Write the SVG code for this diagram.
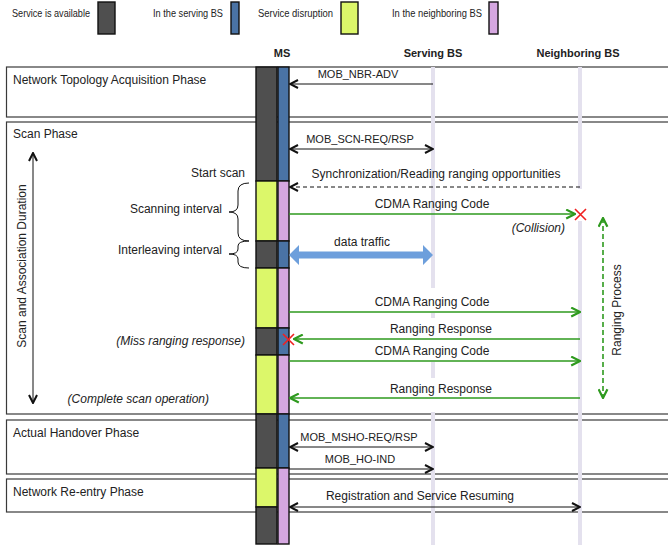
<svg xmlns="http://www.w3.org/2000/svg" width="668" height="546" viewBox="0 0 668 546">
<defs>
<style>
text{font-family:"Liberation Sans",Arial,sans-serif;font-size:12px;fill:#222}
.cap{font-size:11px}
.lg{font-size:10.5px}
.b{font-weight:bold;font-size:11px}
.i{font-style:italic}
.m{text-anchor:middle}
.e{text-anchor:end}
.phase{fill:#fff;stroke:#3a3a3a;stroke-width:1.2}
.life{stroke:#e4e1ee;stroke-width:4}
.msg{fill:none;stroke:#111;stroke-width:1}
.grn{fill:none;stroke:#2e9a1e;stroke-width:1.6}
.dk{fill:#4f4f4f;stroke:#111;stroke-width:1.4}
.bl{fill:#4a73a5;stroke:#111;stroke-width:1.4}
.ye{fill:#dcf76a;stroke:#111;stroke-width:1.4}
.pk{fill:#d5a7e0;stroke:#111;stroke-width:1.4}
.x{stroke:#f02020;stroke-width:1.6}
</style>
<marker id="ah" viewBox="0 0 10 10" refX="9" refY="5" markerWidth="10" markerHeight="10" markerUnits="userSpaceOnUse" orient="auto-start-reverse"><path d="M1,1 L9,5 L1,9" fill="none" stroke="#111" stroke-width="2"/></marker>
<marker id="ag" viewBox="0 0 10 10" refX="9" refY="5" markerWidth="11" markerHeight="11" markerUnits="userSpaceOnUse" orient="auto-start-reverse"><path d="M1,1 L9,5 L1,9" fill="none" stroke="#2e9a1e" stroke-width="2"/></marker>
</defs>
<rect width="668" height="546" fill="#fff"/>

<g id="legend">
<text class="lg" x="12" y="17" textLength="78" lengthAdjust="spacingAndGlyphs">Service is available</text>
<rect class="dk" x="98" y="2" width="17" height="32"/>
<text class="lg" x="153" y="17" textLength="70" lengthAdjust="spacingAndGlyphs">In the serving BS</text>
<rect class="bl" x="231" y="2" width="8" height="32"/>
<text class="lg" x="258" y="17" textLength="75" lengthAdjust="spacingAndGlyphs">Service disruption</text>
<rect class="ye" x="341" y="2" width="17" height="32"/>
<text class="lg" x="392" y="17" textLength="90" lengthAdjust="spacingAndGlyphs">In the neighboring BS</text>
<rect class="pk" x="489" y="2" width="9" height="32"/>
</g>

<g id="headers">
<text class="b m" x="282" y="57">MS</text>
<text class="b m" x="433" y="57">Serving BS</text>
<text class="b m" x="578" y="57">Neighboring BS</text>
</g>

<g id="phases">
<rect id="phase-topology" class="phase" x="6.5" y="67" width="700" height="50"/>
<rect id="phase-scan" class="phase" x="6.5" y="122" width="700" height="292"/>
<rect id="phase-handover" class="phase" x="6.5" y="420" width="700" height="54"/>
<rect id="phase-reentry" class="phase" x="6.5" y="479" width="700" height="33"/>
<text x="13" y="84">Network Topology Acquisition Phase</text>
<text x="13" y="138">Scan Phase</text>
<text x="13" y="437">Actual Handover Phase</text>
<text x="13" y="496">Network Re-entry Phase</text>
</g>

<g id="lifelines">
<path class="life" d="M433,67 V288 M433,313 V318 M433,362 V378 M433,412 V545"/>
<path class="life" d="M580,67 V189 M580,221 V545"/>
</g>

<g id="ms">
<rect class="dk" x="256" y="67" width="21" height="114"/>
<rect class="ye" x="256" y="181" width="21" height="60"/>
<rect class="dk" x="256" y="241" width="21" height="27"/>
<rect class="ye" x="256" y="268" width="21" height="60"/>
<rect class="dk" x="256" y="328" width="21" height="27"/>
<rect class="ye" x="256" y="355" width="21" height="59"/>
<rect class="dk" x="256" y="414" width="21" height="54"/>
<rect class="ye" x="256" y="468" width="21" height="39"/>
<rect class="dk" x="256" y="507" width="21" height="37"/>
<rect class="bl" x="278" y="67" width="11" height="114"/>
<rect class="pk" x="278" y="181" width="11" height="60"/>
<rect class="bl" x="278" y="241" width="11" height="27"/>
<rect class="pk" x="278" y="268" width="11" height="60"/>
<rect class="bl" x="278" y="328" width="11" height="27"/>
<rect class="pk" x="278" y="355" width="11" height="59"/>
<rect class="bl" x="278" y="414" width="11" height="54"/>
<rect class="pk" x="278" y="468" width="11" height="76"/>
</g>

<g id="annotations">
<text class="e" x="245" y="177">Start scan</text>
<text class="e" x="222" y="213">Scanning interval</text>
<text class="e" x="222" y="254">Interleaving interval</text>
<path d="M249,183 Q238,183 238,191 L238,205 Q238,212 229,212 Q238,212 238,219 L238,233 Q238,241 249,241" fill="none" stroke="#111" stroke-width="1"/>
<path d="M249,241 Q238,241 238,246 L238,249 Q238,254 229,254 Q238,254 238,259 L238,262 Q238,268 249,268" fill="none" stroke="#111" stroke-width="1"/>
<text class="e i" x="245" y="345">(Miss ranging response)</text>
<text class="e i" x="209" y="403">(Complete scan operation)</text>
<text class="e i" x="565" y="232">(Collision)</text>
<text class="m" transform="translate(26,266) rotate(-90)">Scan and Association Duration</text>
<text class="m" transform="translate(621,310) rotate(-90)">Ranging Process</text>
</g>

<g id="connectors">
<line class="msg" x1="433" y1="84" x2="290" y2="84" marker-end="url(#ah)"/>
<text class="cap m" x="358" y="78">MOB_NBR-ADV</text>
<line class="msg" x1="290" y1="149" x2="433" y2="149" marker-start="url(#ah)" marker-end="url(#ah)"/>
<text class="cap m" x="360" y="143">MOB_SCN-REQ/RSP</text>
<line class="msg" x1="580" y1="187" x2="290" y2="187" stroke-dasharray="4,3" marker-end="url(#ah)"/>
<text class="m" x="436" y="178">Synchronization/Reading ranging opportunities</text>
<line class="grn" x1="289" y1="214" x2="575" y2="214" marker-end="url(#ag)"/>
<text class="m" x="432" y="208">CDMA Ranging Code</text>
<path class="x" d="M575,209 L586,220 M586,209 L575,220"/>
<polygon points="289,255 299,245 299,251.5 423,251.5 423,245 433,255 423,265 423,258.5 299,258.5 299,265" fill="#6d9fdc"/>
<text class="m" x="362" y="246">data traffic</text>
<line class="grn" x1="603" y1="218" x2="603" y2="398" stroke-dasharray="5,3" marker-start="url(#ag)" marker-end="url(#ag)"/>
<line class="grn" x1="289" y1="312" x2="580" y2="312" marker-end="url(#ag)"/>
<text class="m" x="432" y="306">CDMA Ranging Code</text>
<line class="grn" x1="580" y1="339" x2="294" y2="339" marker-end="url(#ag)"/>
<text class="m" x="441" y="333">Ranging Response</text>
<path class="x" d="M283,334 L294,345 M294,334 L283,345"/>
<line class="grn" x1="289" y1="361" x2="580" y2="361" marker-end="url(#ag)"/>
<text class="m" x="432" y="355">CDMA Ranging Code</text>
<line class="grn" x1="580" y1="398" x2="290" y2="398" marker-end="url(#ag)"/>
<text class="m" x="441" y="393">Ranging Response</text>
<line class="msg" x1="33" y1="153" x2="33" y2="403" marker-start="url(#ah)" marker-end="url(#ah)"/>
<line class="msg" x1="290" y1="447" x2="433" y2="447" marker-start="url(#ah)" marker-end="url(#ah)"/>
<text class="cap m" x="359" y="441">MOB_MSHO-REQ/RSP</text>
<line class="msg" x1="289" y1="469" x2="433" y2="469" marker-end="url(#ah)"/>
<text class="cap m" x="360" y="463">MOB_HO-IND</text>
<line class="msg" x1="290" y1="507" x2="580" y2="507" marker-start="url(#ah)" marker-end="url(#ah)"/>
<text class="m" x="420" y="500">Registration and Service Resuming</text>
</g>
</svg>
